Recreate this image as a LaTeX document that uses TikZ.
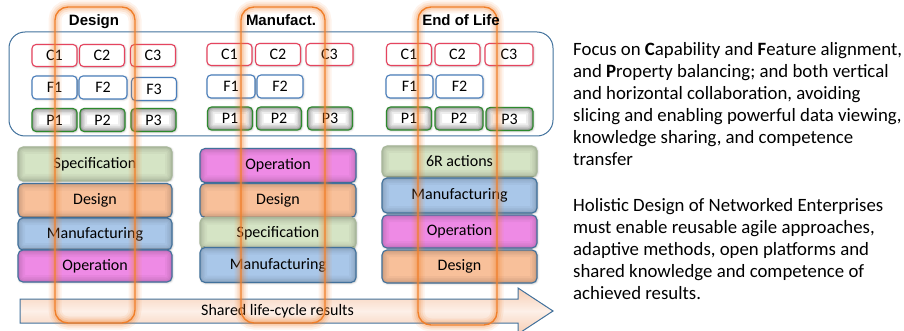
\documentclass[tikz,border=0pt]{standalone}
\usepackage{fontspec}
\setmainfont{Carlito}
\newfontfamily\titlefont{Liberation Sans}
\usetikzlibrary{shadows.blur}
\definecolor{cbord}{HTML}{E5445F}
\definecolor{fbord}{HTML}{4A7EBB}
\definecolor{pbord}{HTML}{2C8A2C}
\definecolor{sblue}{HTML}{41719C}
\definecolor{specfill}{HTML}{D5E4C5}
\definecolor{specbord}{HTML}{A8B89A}
\definecolor{desfill}{HTML}{F8C09A}
\definecolor{manfill}{HTML}{A9C7E9}
\definecolor{opfill}{HTML}{EE8AE5}
\definecolor{orng}{HTML}{F07F2A}
\definecolor{arrtop}{HTML}{F6CDB3}
\definecolor{arrmid}{HTML}{FDF0E8}
\tikzset{
  innerglow/.style={path picture={
    \foreach \w/\o in {14/0.07, 10/0.08, 7/0.09, 4/0.11, 2/0.12}{
    \draw[#1, draw opacity=\o, line width=\w pt, rounded corners=5pt]
      (path picture bounding box.south west) rectangle (path picture bounding box.north east);}
  }},
  softshadow/.style={blur shadow={shadow xshift=0.6pt, shadow yshift=-0.6pt, shadow blur radius=2pt, shadow opacity=30}},
  sm/.style={rounded corners=4pt, minimum width=45pt, minimum height=22pt, inner sep=0pt,
    line width=1.1pt, fill=white, font=\fontsize{16}{19}\selectfont, softshadow},
  cbox/.style={sm, draw=cbord},
  fbox/.style={sm, draw=fbord},
  pbox/.style={sm, draw=pbord, minimum height=23pt, innerglow=black},
  stk/.style={draw=sblue, line width=1.1pt, rounded corners=5pt, inner sep=0pt,
    font=\fontsize{16}{19}\selectfont, softshadow},
  specbox/.style={stk, fill=specfill, draw=specbord, innerglow=specfill!55!black},
  desbox/.style={stk, fill=desfill, innerglow=desfill!55!black},
  manbox/.style={stk, fill=manfill, innerglow=manfill!55!black},
  opbox/.style={stk, fill=opfill, innerglow=opfill!55!black},
  colbox/.style={draw=orng, line width=1.4pt, rounded corners=13pt, inner sep=0pt,
    preaction={draw=orng, line width=13pt, draw opacity=0.09, rounded corners=13pt},
    preaction={draw=orng, line width=9pt, draw opacity=0.13, rounded corners=13pt},
    preaction={draw=orng, line width=5pt, draw opacity=0.2, rounded corners=13pt}},
  coltitle/.style={font=\titlefont\bfseries\fontsize{15}{18}\selectfont, anchor=base, inner sep=0pt},
  rtext/.style={font=\fontsize{18.8}{22}\selectfont, align=left, anchor=base west, inner sep=0pt},
  bigframe/.style={draw=sblue, line width=1pt, rounded corners=16pt},
  arrowbody/.style={draw=sblue, line width=1pt, top color=arrtop, bottom color=arrtop, middle color=arrmid}
}
\begin{document}
\begin{tikzpicture}[x=1pt, y=-1pt]
\useasboundingbox (0,0) rectangle (904,331);
\clip (0,0) rectangle (904,331);

% frame around C/F/P
\node[bigframe, minimum width=544pt, minimum height=104pt] (frame) at (281,84) {};

% Design group
\node[cbox] (dC1) at (54.5,55.5) {C1};
\node[cbox] (dC2) at (102,55.5) {C2};
\node[cbox] (dC3) at (153,55.5) {C3};
\node[fbox, minimum height=23pt] (dF1) at (54.5,87.5) {F1};
\node[fbox, minimum height=23pt, minimum width=48pt] (dF2) at (103,87.5) {F2};
\node[fbox, minimum height=23pt] (dF3) at (154,89) {F3};
\node[pbox] (dP1) at (54.5,120) {P1};
\node[pbox] (dP2) at (102.5,120) {P2};
\node[pbox] (dP3) at (153.5,120) {P3};

% Manufact group
\node[cbox] (mC1) at (229.5,54.5) {C1};
\node[cbox] (mC2) at (278,54.5) {C2};
\node[cbox, minimum width=47pt] (mC3) at (329.5,54.5) {C3};
\node[fbox, minimum height=23pt, minimum width=48pt] (mF1) at (231,86.5) {F1};
\node[fbox, minimum height=23pt, minimum width=46pt] (mF2) at (280,86.5) {F2};
\node[pbox] (mP1) at (230,118.5) {P1};
\node[pbox] (mP2) at (279,118.5) {P2};
\node[pbox] (mP3) at (330,118.5) {P3};

% End of Life group
\node[cbox] (eC1) at (409,54.5) {C1};
\node[cbox] (eC2) at (457.5,54.5) {C2};
\node[cbox, minimum width=48pt] (eC3) at (509,54.5) {C3};
\node[fbox, minimum height=23pt, minimum width=47pt] (eF1) at (409.5,86.5) {F1};
\node[fbox, minimum height=23pt, minimum width=47pt] (eF2) at (459.5,86.5) {F2};
\node[pbox] (eP1) at (409,118.5) {P1};
\node[pbox, minimum width=48pt] (eP2) at (459,118.5) {P2};
\node[pbox, minimum width=47pt] (eP3) at (509.5,119) {P3};

% Design stack
\node[specbox, minimum width=154pt, minimum height=34pt] (dS) at (95,164) {Specification};
\node[desbox, minimum width=154pt, minimum height=34pt] (dD) at (95,200.5) {Design};
\node[manbox, minimum width=154pt, minimum height=32pt] (dM) at (95,234) {Manufacturing};
\node[opbox, minimum width=154pt, minimum height=32pt] (dO) at (95,266) {Operation};

% Manufact stack
\node[opbox, minimum width=156pt, minimum height=34pt] (mO) at (278,165.5) {Operation};
\node[desbox, minimum width=156pt, minimum height=34pt] (mD) at (278,200.5) {Design};
\node[specbox, minimum width=156pt, minimum height=31pt] (mS) at (278,233) {Specification};
\node[manbox, minimum width=156pt, minimum height=35pt] (mM) at (278,265) {Manufacturing};

% End of Life stack
\node[specbox, minimum width=155pt, minimum height=31pt] (eR) at (459.5,161.5) {6R actions};
\node[manbox, minimum width=155pt, minimum height=35pt] (eM) at (459.5,195.5) {Manufacturing};
\node[opbox, minimum width=155pt, minimum height=33pt] (eO) at (459.5,231.5) {Operation};
\node[desbox, minimum width=155pt, minimum height=33pt] (eD) at (459.5,266.5) {Design};

% shared results arrow
\path[arrowbody] (20,299) -- (518,299) -- (518,288) -- (553,311) -- (518,334) -- (518,323) -- (20,323) -- cycle;
\node[font=\fontsize{16}{19}\selectfont, inner sep=0pt] (shared) at (277.5,311) {Shared life-cycle results};

% right-hand text
\node[rtext] (txt1) at (573,166) {Focus on \textbf{C}apability and \textbf{F}eature alignment,\\
and \textbf{P}roperty balancing; and both vertical\\
and horizontal collaboration, avoiding\\
slicing and enabling powerful data viewing,\\
knowledge sharing, and competence\\
transfer};
\node[rtext] (txt2) at (573,299) {Holistic Design of Networked Enterprises\\
must enable reusable agile approaches,\\
adaptive methods, open platforms and\\
shared knowledge and competence of\\
achieved results.};

% orange columns
\node[colbox, minimum width=80pt, minimum height=316pt] (colD) at (95,165) {};
\node[colbox, minimum width=84pt, minimum height=316pt] (colM) at (283,165) {};
\node[colbox, minimum width=79pt, minimum height=318pt] (colE) at (457.5,166) {};
\node[coltitle] (tD) at (94,26) {Design};
\node[coltitle] (tM) at (281,26) {Manufact.};
\node[coltitle] (tE) at (461,26) {End of Life};
\end{tikzpicture}
\end{document}
